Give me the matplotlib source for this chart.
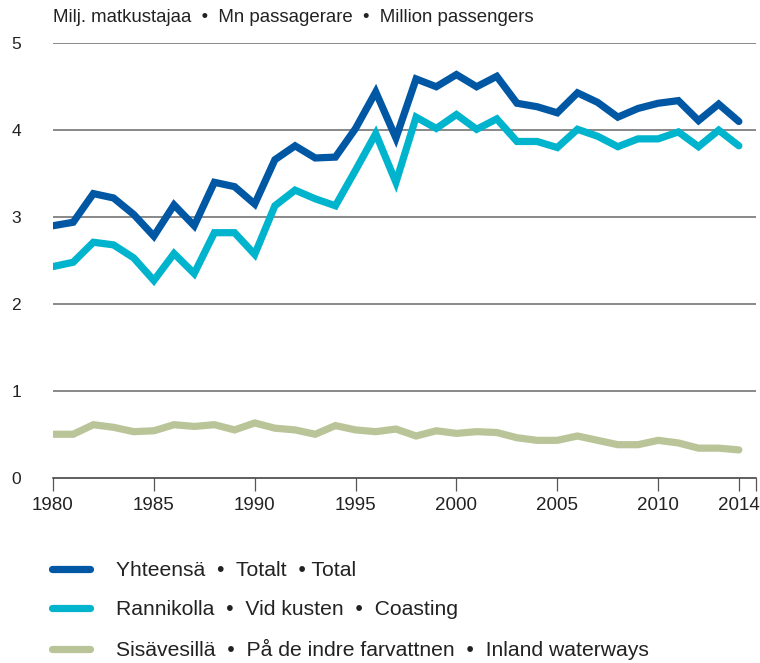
import matplotlib
matplotlib.use("Agg")
import matplotlib.pyplot as plt

plt.rcParams['font.family'] = ['Liberation Sans', 'DejaVu Sans']

years = list(range(1980, 2015))
total = [2.90, 2.94, 3.27, 3.22, 3.03, 2.78, 3.14, 2.90, 3.40, 3.35,
         3.15, 3.66, 3.82, 3.68, 3.69, 4.02, 4.44, 3.91, 4.59, 4.50,
         4.64, 4.50, 4.62, 4.31, 4.27, 4.20, 4.43, 4.32, 4.15, 4.25,
         4.31, 4.34, 4.11, 4.30, 4.10]
coastal = [2.43, 2.48, 2.71, 2.68, 2.53, 2.27, 2.58, 2.35, 2.82, 2.82,
           2.57, 3.13, 3.31, 3.21, 3.13, 3.54, 3.96, 3.40, 4.15, 4.02,
           4.18, 4.01, 4.13, 3.87, 3.87, 3.80, 4.01, 3.93, 3.81, 3.90,
           3.90, 3.98, 3.81, 4.00, 3.82]
inland = [0.50, 0.50, 0.61, 0.58, 0.53, 0.54, 0.61, 0.59, 0.61, 0.55,
          0.63, 0.57, 0.55, 0.50, 0.60, 0.55, 0.53, 0.56, 0.48, 0.54,
          0.51, 0.53, 0.52, 0.46, 0.43, 0.43, 0.48, 0.43, 0.38, 0.38,
          0.43, 0.40, 0.34, 0.34, 0.32]

labels = ["Yhteensä  •  Totalt  • Total",
          "Rannikolla  •  Vid kusten  •  Coasting",
          "Sisävesillä  •  På de indre farvattnen  •  Inland waterways"]
colors = ["#0057a3", "#00b4cd", "#b9c598"]
title = "Milj. matkustajaa  •  Mn passagerare  •  Million passengers"
xticks = [1980, 1985, 1990, 1995, 2000, 2005, 2010, 2014]
yticks = [0, 1, 2, 3, 4, 5]

fig = plt.figure(figsize=(7.6, 6.63), dpi=100)
ax = fig.add_axes([53/760, 1-477.7/663, (756-53)/760, (477.7-43.3)/663])

handles = []
for series, c, lab in zip([total, coastal, inland], colors, labels):
    h, = ax.plot(years, series, color=c, lw=5.2, solid_capstyle='round',
                 solid_joinstyle='miter', label=lab, zorder=3)
    handles.append(h)

ax.set_xlim(1980, 2014.85)
ax.set_ylim(0, 5)
for v in yticks[1:]:
    ax.axhline(v, color='#7f7f7f', lw=1.3, zorder=1)

for s in ['top', 'right', 'left']:
    ax.spines[s].set_visible(False)
ax.spines['bottom'].set_color('#333333')
ax.spines['bottom'].set_linewidth(1.1)

ax.set_xticks(xticks + [2014.85])
ax.set_xticklabels([str(x) for x in xticks] + [''])
ax.set_yticks(yticks)
ax.set_yticklabels([str(v) for v in yticks])
ax.tick_params(axis='x', length=9.5, width=0.9, color='#555555', pad=4.5,
               labelsize=13.5, labelcolor='#222222')
ax.tick_params(axis='y', length=0, labelsize=12.5, labelcolor='#222222')
for t in ax.get_yticklabels():
    t.set_horizontalalignment('left')
ax.yaxis.set_tick_params(pad=30)

fig.text(53/760, 1-17/663, title, fontsize=13.4, color='#222222',
         ha='left', va='center')

leg = fig.legend(handles=handles, loc='upper left',
                 bbox_to_anchor=(52/760, 1-561/663), frameon=False,
                 fontsize=15.2, handlelength=1.8, handletextpad=1.25,
                 labelspacing=0.95, borderaxespad=0, borderpad=0)
for t in leg.get_texts():
    t.set_color('#222222')
for lh in leg.get_lines():
    lh.set_linewidth(5.2)
    lh.set_solid_capstyle('round')

fig.savefig("out.png", dpi=100)
